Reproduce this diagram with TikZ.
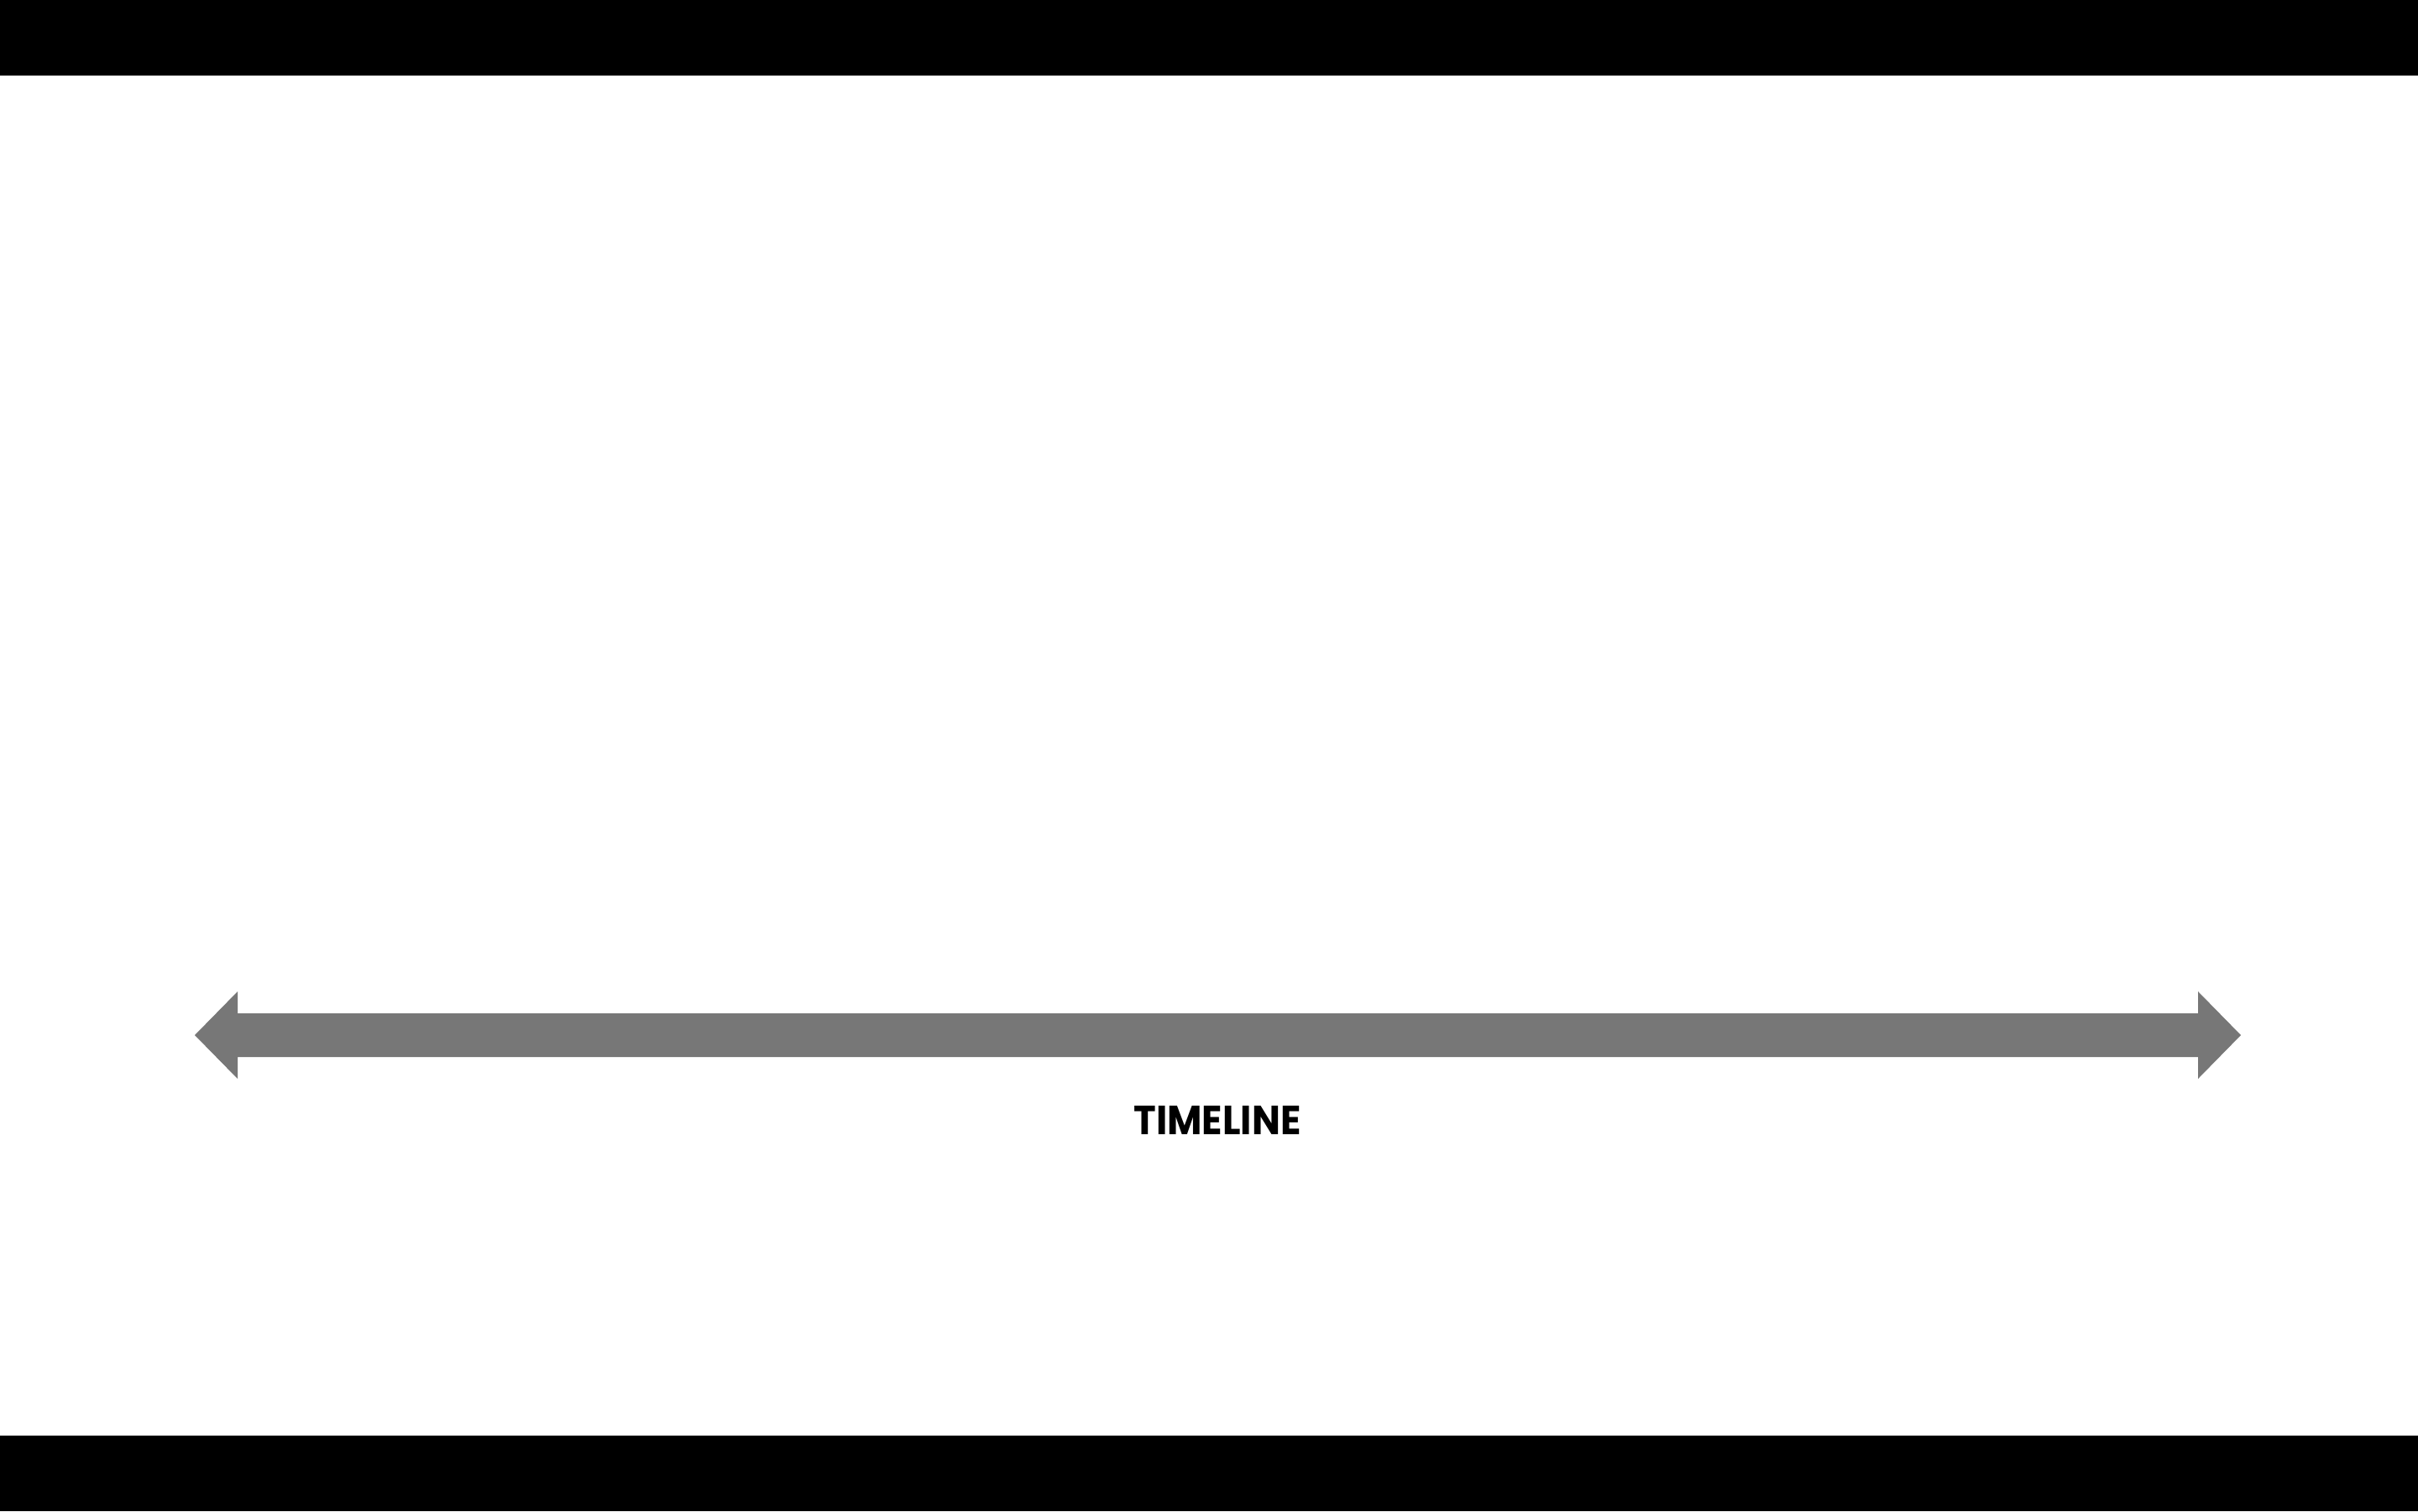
\documentclass[tikz,border=0pt]{standalone}
\usepackage{fontspec}
\setmainfont{Poppins}
\usepackage{tikz}
\usetikzlibrary{positioning}
\definecolor{timegray}{RGB}{119,119,119}
\tikzset{bar/.style={ % Black bands at top and bottom
fill=black},
timearrow/.style={ % The double-headed timeline arrow
fill=timegray, draw=none},
label/.style={ % Caption under the arrow
font=\fontsize{13.8}{16}\selectfont\bfseries, inner sep=0pt}}

\begin{document}
\begin{tikzpicture}
    
    \useasboundingbox (0,0) rectangle (28.8,18);
    \fill[white] (0,0) rectangle (28.8,18);
    \fill[bar] (0,17.1) rectangle (28.8,18);
    \fill[bar] (0,0) rectangle (28.8,0.9);
    
    \fill[timearrow] (2.32,5.67) -- (2.83,6.19) -- (2.83,5.93) -- (26.18,5.93) -- (26.18,6.19)
        -- (26.69,5.67) -- (26.18,5.15) -- (26.18,5.41) -- (2.83,5.41) -- (2.83,5.15) -- cycle;
    
    \node[label, xscale=0.93] (timeline) at (14.5,4.66) {TIMELINE};
    
\end{tikzpicture}
\end{document}
